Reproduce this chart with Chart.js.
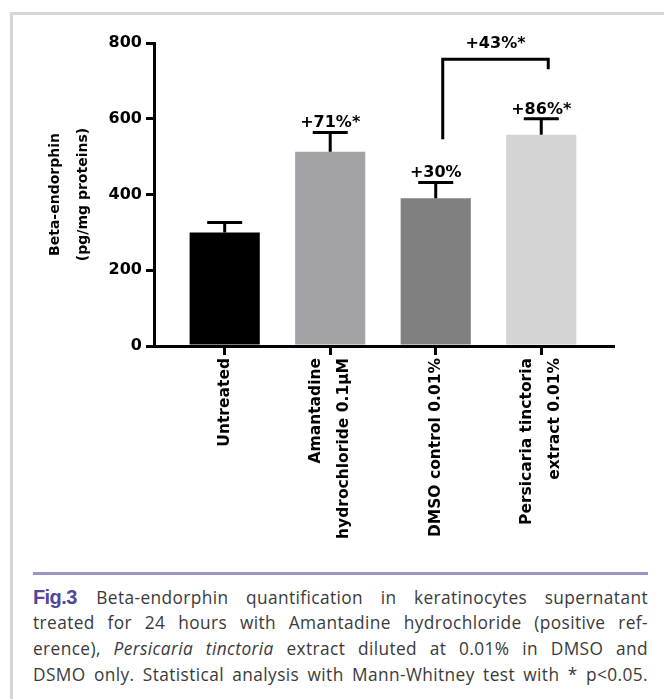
<!DOCTYPE html>
<html>
<head>
<meta charset="utf-8">
<title>Beta-endorphin quantification</title>
<script src="https://cdn.jsdelivr.net/npm/chart.js@4.4.1/dist/chart.umd.min.js"></script>
<style>
  html, body { margin: 0; padding: 0; background: #ffffff; }
  body { width: 664px; height: 699px; position: relative; overflow: hidden; }
  #frame { position: absolute; left: 10px; top: 12px; width: 720px; height: 760px;
           border-top: 3px solid #d6d6d6; border-left: 3px solid #d6d6d6; }
  #wrap { position: absolute; left: 0; top: 0; width: 664px; height: 565px; }
  #rule { position: absolute; left: 33px; top: 572px; width: 615px; height: 3px; background: #9d92cb; }
  #caption { position: absolute; left: 33px; top: 584px; width: 615px;
             font-family: "Open Sans", sans-serif; font-size: 17.3px; letter-spacing: 0.4px; color: #3a3a3a; }
  #caption div { height: 26px; line-height: 26px; text-align: justify; text-align-last: justify; }
  #caption .fig { display: inline-block; font-family: "Liberation Sans Narrow", "Liberation Sans", sans-serif;
                  font-weight: bold; color: #54469c; font-size: 20px; letter-spacing: -0.6px; margin-right: 2px; }
</style>
</head>
<body>
<div id="frame"></div>
<div id="wrap"><canvas id="chart" width="664" height="565"></canvas></div>
<div id="rule"></div>
<div id="caption">
  <div><span class="fig">Fig.3</span> Beta-endorphin quantification in keratinocytes supernatant</div>
  <div>treated for 24 hours with Amantadine hydrochloride (positive ref-</div>
  <div>erence), <i>Persicaria tinctoria</i> extract diluted at 0.01% in DMSO and</div>
  <div>DSMO only. Statistical analysis with Mann-Whitney test with * p&lt;0.05.</div>
</div>
<script>
// Treatment groups (multi-line axis labels)
const categories = [
  ['Untreated'],
  ['Amantadine', 'hydrochloride 0.1µM'],
  ['DMSO control 0.01%'],
  ['Persicaria tinctoria', 'extract 0.01%']
];
// Beta-endorphin, pg/mg proteins
const means = [300, 513, 390, 558];
const errors = [26, 51, 42, 42];
// Change versus untreated
const changeLabels = ['', '+71%*', '+30%', '+86%*'];
const barColors = ['#000000', '#a3a2a7', '#808080', '#d4d4d4'];
const yTicks = [0, 200, 400, 600, 800];
// DMSO control vs Persicaria extract
const comparison = { from: 2, to: 3, label: '+43%*' };

const BOLD = '"DejaVu Sans", sans-serif';

// Upward error whiskers with caps
const errorBarPlugin = {
  id: 'errorBars',
  afterDatasetsDraw(chart) {
    const { ctx, scales: { x, y } } = chart;
    ctx.save();
    ctx.strokeStyle = '#000';
    ctx.lineWidth = 3;
    means.forEach((m, i) => {
      const px = x.getPixelForValue(i);
      const yb = y.getPixelForValue(m);
      const yt = y.getPixelForValue(m + errors[i]);
      ctx.beginPath();
      ctx.moveTo(px, yb);
      ctx.lineTo(px, yt);
      ctx.moveTo(px - 17.5, yt);
      ctx.lineTo(px + 17.5, yt);
      ctx.stroke();
    });
    ctx.restore();
  }
};

// Category labels, change labels and the comparison bracket
const annotationPlugin = {
  id: 'annotations',
  afterDraw(chart, args, opts) {
    const { ctx, chartArea, scales: { x, y } } = chart;
    ctx.save();
    ctx.fillStyle = '#000';

    // rotated category labels, lines centred on the tick
    ctx.font = 'bold 15.5px ' + BOLD;
    ctx.textAlign = 'right';
    ctx.textBaseline = 'middle';
    categories.forEach((lines, i) => {
      const cx = x.getPixelForValue(i);
      lines.forEach((line, k) => {
        const lx = cx + (k - (lines.length - 1) / 2) * opts.lineGap;
        ctx.save();
        ctx.translate(lx, chartArea.bottom + 12);
        ctx.rotate(-Math.PI / 2);
        ctx.fillText(line, 0, 0);
        ctx.restore();
      });
    });

    // change labels above whiskers
    ctx.font = 'bold 16px ' + BOLD;
    ctx.textAlign = 'center';
    ctx.textBaseline = 'alphabetic';
    changeLabels.forEach((t, i) => {
      if (!t) return;
      const px = x.getPixelForValue(i);
      const yt = y.getPixelForValue(means[i] + errors[i]);
      ctx.fillText(t, px, yt - 5);
    });

    // bracket
    const b = opts.bracket;
    const x1 = x.getPixelForValue(comparison.from) + b.shift;
    const x2 = x.getPixelForValue(comparison.to) + b.shift;
    const yTop = y.getPixelForValue(b.top);
    ctx.strokeStyle = '#000';
    ctx.lineWidth = 3;
    ctx.lineJoin = 'miter';
    ctx.beginPath();
    ctx.moveTo(x1, y.getPixelForValue(b.leftEnd));
    ctx.lineTo(x1, yTop);
    ctx.lineTo(x2, yTop);
    ctx.lineTo(x2, y.getPixelForValue(b.rightEnd));
    ctx.stroke();
    ctx.fillText(comparison.label, (x1 + x2) / 2, yTop - 11);
    ctx.restore();
  }
};

new Chart(document.getElementById('chart'), {
  type: 'bar',
  data: {
    datasets: [{
      data: means.map((v, i) => ({ x: i, y: v })),
      backgroundColor: barColors,
      borderWidth: 0,
      categoryPercentage: 1,
      barPercentage: 0.665
    }]
  },
  options: {
    responsive: false,
    animation: false,
    layout: { padding: { top: 43, right: 51, left: 0, bottom: 0 } },
    plugins: {
      legend: { display: false },
      tooltip: { enabled: false },
      annotations: { lineGap: 28, bracket: { top: 757, leftEnd: 546, rightEnd: 731, shift: 7 } }
    },
    scales: {
      x: {
        type: 'linear',
        offset: false,
        min: -0.67,
        max: 3.68,
        afterBuildTicks: s => { s.ticks = categories.map((_, i) => ({ value: i })); },
        afterFit: s => { s.height = 565 - 346; },
        ticks: { display: false },
        grid: { offset: false, drawOnChartArea: false, drawTicks: true, tickLength: 9, color: '#000', lineWidth: 3 },
        border: { display: true, color: '#000', width: 3 }
      },
      y: {
        min: 0,
        max: 800,
        afterBuildTicks: s => { s.ticks = yTicks.map(v => ({ value: v })); },
        afterFit: s => { s.width = 154; },
        ticks: { color: '#000', padding: 4, font: { family: BOLD, weight: 'bold', size: 16 } },
        grid: { drawOnChartArea: false, drawTicks: true, tickLength: 8, color: '#000', lineWidth: 3 },
        border: { display: true, color: '#000', width: 3 },
        title: {
          display: true,
          text: ['Beta-endorphin', '(pg/mg proteins)'],
          color: '#000',
          font: { family: BOLD, weight: 'bold', size: 14, lineHeight: 2 },
          padding: { top: 41, bottom: 0 }
        }
      }
    }
  },
  plugins: [errorBarPlugin, annotationPlugin]
});
</script>
</body>
</html>
